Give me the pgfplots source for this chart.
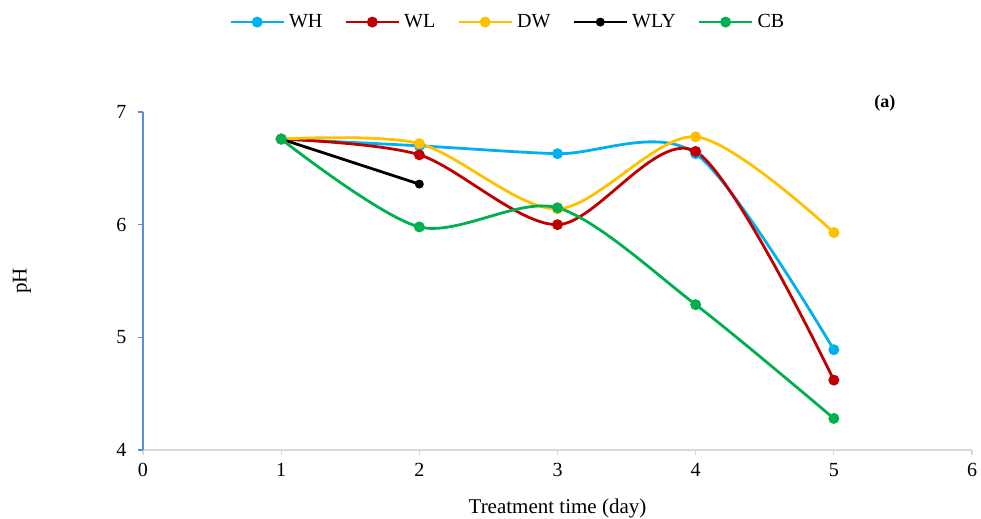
\documentclass[border=0pt]{standalone}
\usepackage{pgfplots}
\pgfplotsset{compat=1.18}
\usepackage{fontspec}
\setmainfont{Liberation Serif}
\definecolor{cWH}{HTML}{00B0F0}
\definecolor{cWL}{HTML}{C00000}
\definecolor{cDW}{HTML}{FFC000}
\definecolor{cCB}{HTML}{00B050}
\definecolor{yax}{HTML}{5B8ED6}
\definecolor{xax}{HTML}{D9D9D9}
\begin{document}
\begin{tikzpicture}
\path[use as bounding box] (-143bp,-69bp) rectangle (838bp,450bp);
\begin{axis}[
  scale only axis,
  width=829bp, height=338bp,
  xmin=0, xmax=6, ymin=4, ymax=7,
  xtick={0,1,2,3,4,5,6}, ytick={4,5,6,7},
  axis lines=left,
  axis line style={-},
  x axis line style={draw=xax, line width=1.3bp},
  y axis line style={draw=yax, line width=1.3bp},
  every major x tick/.style={draw=xax, line width=1.3bp},
  every major y tick/.style={draw=yax, line width=1.3bp},
  tick align=outside,
  major tick length=5bp,
  /pgf/number format/assume math mode=true,
  ticklabel style={font=\fontsize{20bp}{22bp}\selectfont, text=black},
  xticklabel style={yshift=-5bp},
  yticklabel style={xshift=-8bp},
  xlabel={Treatment time (day)},
  ylabel={pH},
  label style={font=\fontsize{21bp}{23bp}\selectfont},
  xlabel style={at={(axis description cs:0.5,-0.172)}, anchor=center},
  ylabel style={at={(axis description cs:-0.146,0.5)}, anchor=center},
  clip=false,
  legend columns=5,
  legend style={at={(axis description cs:0.440,1.266)}, anchor=center, draw=none,
    font=\fontsize{20bp}{22bp}\selectfont,
    /tikz/every even column/.append style={column sep=20bp},
    /tikz/every odd column/.append style={column sep=2bp}},
  legend image code/.code={\draw[mark repeat=2,mark phase=2,#1] plot coordinates {(0bp,0bp) (26.5bp,0bp) (53bp,0bp)};},
  every axis plot/.append style={line width=2.8bp, mark=*, mark size=4bp, smooth, tension=0.5},
]
\addplot[color=cWH, mark options={fill=cWH}] coordinates {(1,6.76) (2,6.70) (3,6.63) (4,6.63) (5,4.89)};
\addlegendentry{WH}
\addplot[color=cWL, mark options={fill=cWL}] coordinates {(1,6.76) (2,6.62) (3,6.00) (4,6.65) (5,4.62)};
\addlegendentry{WL}
\addplot[color=cDW, mark options={fill=cDW}] coordinates {(1,6.76) (2,6.72) (3,6.14) (4,6.78) (5,5.93)};
\addlegendentry{DW}
\addplot[color=black, mark options={fill=black}, mark size=3bp] coordinates {(1,6.76) (2,6.36)};
\addlegendentry{WLY}
\addplot[color=cCB, mark options={fill=cCB}] coordinates {(1,6.76) (2,5.98) (3,6.15) (4,5.29) (5,4.28)};
\addlegendentry{CB}
\node[font=\bfseries\fontsize{18bp}{20bp}\selectfont] at (axis cs:5.37,7.08) {(a)};
\end{axis}
\end{tikzpicture}
\end{document}
